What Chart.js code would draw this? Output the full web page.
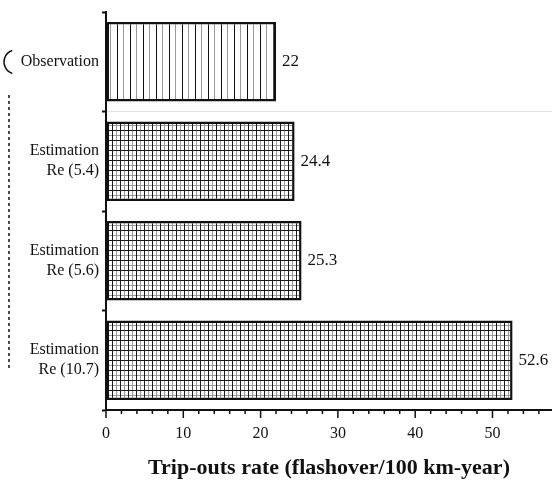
<!DOCTYPE html>
<html>
<head>
<meta charset="utf-8">
<script src="https://cdn.jsdelivr.net/npm/chart.js@4.4.1/dist/chart.umd.min.js"></script>
<style>
  html, body { margin: 0; padding: 0; background: #fff; }
  #wrap { width: 552px; height: 485px; }
</style>
</head>
<body>
<div id="wrap"><canvas id="chart"></canvas></div>
<script>
// chart data
const categories = [
    ['Observation'],
    ['Estimation', 'Re (5.4)'],
    ['Estimation', 'Re (5.6)'],
    ['Estimation', 'Re (10.7)']
];
const tripOuts = [22, 24.4, 25.3, 52.6];
const xTickValues = [0, 10, 20, 30, 40, 50];
const xMinorStep = 2;
const xMax = 57.7;

// hatch patterns
function makePattern(w, h, draw) {
    const c = document.createElement('canvas');
    c.width = w;
    c.height = h;
    const g = c.getContext('2d');
    g.fillStyle = '#fff';
    g.fillRect(0, 0, w, h);
    draw(g);
    return g.createPattern(c, 'repeat');
}

const ctx = document.getElementById('chart').getContext('2d');

const stripes = makePattern(13, 2, g => {
    g.fillStyle = '#111';
    g.fillRect(0, 0, 1, 2);
    g.fillStyle = '#999';
    g.fillRect(6, 0, 1, 2);
});

const mesh = makePattern(8, 10, g => {
    g.fillStyle = '#999';
    g.fillRect(4, 0, 1, 10);
    g.fillRect(0, 5, 8, 1);
    g.fillStyle = '#1a1a1a';
    g.fillRect(0, 0, 1, 10);
    g.fillRect(0, 0, 8, 1);
});

const fills = [stripes, mesh, mesh, mesh];

const serif = "'Liberation Serif', 'DejaVu Serif', serif";

// value labels next to bars, minor ticks and the cropped left bracket
const extras = {
    id: 'extras',
    afterDatasetsDraw(chart) {
        const c = chart.ctx;
        const meta = chart.getDatasetMeta(0);
        c.save();
        c.fillStyle = '#111';
        c.font = '17px ' + serif;
        c.textBaseline = 'middle';
        c.textAlign = 'left';
        meta.data.forEach((bar, i) => {
            c.fillText(String(tripOuts[i]), bar.x + 6, bar.y);
        });

        const xs = chart.scales.x;
        const yb = chart.chartArea.bottom;
        c.strokeStyle = '#111';
        c.lineWidth = 1.5;
        for (let v = 0; v <= xMax; v += xMinorStep) {
            const px = xs.getPixelForValue(v);
            const len = xTickValues.includes(v) ? 8 : 4;
            c.beginPath();
            c.moveTo(px, yb);
            c.lineTo(px, yb + len);
            c.stroke();
        }

        c.setLineDash([3, 3]);
        c.lineWidth = 1.5;
        c.beginPath();
        c.moveTo(9, 95);
        c.lineTo(9, 370);
        c.stroke();
        c.setLineDash([]);
        c.beginPath();
        c.arc(16, 62, 12, Math.PI * 0.6, Math.PI * 1.4);
        c.stroke();
        c.restore();
    }
};

new Chart(ctx, {
    type: 'bar',
    data: {
        labels: categories,
        datasets: [{
            data: tripOuts,
            backgroundColor: fills,
            borderColor: '#111',
            borderWidth: 2.5,
            borderSkipped: false,
            barPercentage: 0.8,
            categoryPercentage: 1.0
        }]
    },
    options: {
        indexAxis: 'y',
        responsive: true,
        maintainAspectRatio: false,
        animation: false,
        layout: { padding: { top: 12, right: 0, left: 0, bottom: 0 } },
        plugins: {
            legend: { display: false },
            tooltip: { enabled: false }
        },
        scales: {
            x: {
                type: 'linear',
                min: 0,
                max: xMax,
                afterBuildTicks: scale => {
                    scale.ticks = xTickValues.map(v => ({ value: v }));
                },
                afterFit: scale => {
                    scale.height = 75;
                    scale.paddingLeft = 0;
                    scale.paddingRight = 0;
                },
                border: { display: true, color: '#111', width: 2 },
                grid: { drawOnChartArea: false, drawTicks: false },
                ticks: {
                    padding: 14,
                    color: '#111',
                    font: { family: serif, size: 16 },
                    maxRotation: 0
                },
                title: {
                    display: true,
                    text: 'Trip-outs rate (flashover/100 km-year)',
                    color: '#111',
                    font: { family: serif, size: 22, weight: 'bold' },
                    padding: { top: 3, bottom: 3 }
                }
            },
            y: {
                type: 'category',
                offset: true,
                afterFit: scale => {
                    scale.width = 106;
                    scale.paddingTop = 0;
                    scale.paddingBottom = 0;
                },
                border: { display: true, color: '#111', width: 2 },
                grid: {
                    offset: true,
                    drawOnChartArea: true,
                    color: c => c.index === 1 ? '#e2e2e2' : 'rgba(0,0,0,0)',
                    tickColor: '#111',
                    tickLength: 4,
                    tickWidth: 2
                },
                ticks: {
                    padding: 3,
                    color: '#111',
                    font: { family: serif, size: 16, lineHeight: 1.25 }
                }
            }
        }
    },
    plugins: [extras]
});
</script>
</body>
</html>
